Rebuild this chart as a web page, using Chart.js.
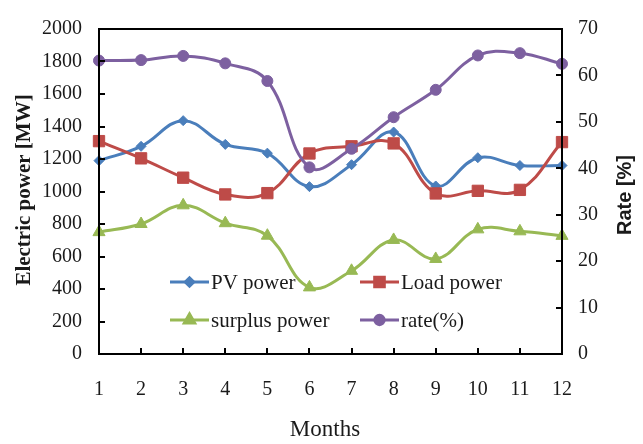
<!DOCTYPE html>
<html>
<head>
<meta charset="utf-8">
<script src="https://cdn.jsdelivr.net/npm/chart.js@4.4.1/dist/chart.umd.min.js"></script>
<style>
  html, body { margin: 0; padding: 0; background: #ffffff; }
  #wrap { width: 643px; height: 444px; position: relative; }
</style>
</head>
<body>
<div id="wrap"><canvas id="c" width="643" height="444"></canvas></div>
<script>
const months = ["1","2","3","4","5","6","7","8","9","10","11","12"];
const pvPower = [1190, 1278, 1436, 1290, 1236, 1030, 1165, 1366, 1034, 1208, 1160, 1160];
const loadPower = [1310, 1204, 1085, 982, 990, 1234, 1278, 1296, 988, 1004, 1010, 1304];
const surplusPower = [750, 800, 915, 805, 728, 410, 512, 702, 585, 767, 755, 727];
const rate = [63.2, 63.3, 64.2, 62.6, 58.8, 40.2, 44.2, 51.0, 56.9, 64.3, 64.8, 62.5];
const leftTicks = [0, 200, 400, 600, 800, 1000, 1200, 1400, 1600, 1800, 2000];
const rightTicks = [0, 10, 20, 30, 40, 50, 60, 70];
const seriesNames = ["PV power", "Load power", "surplus power", "rate(%)"];
const yTitle = "Electric power [MW]";
const y1Title = "Rate [%]";
const xTitle = "Months";

const COLORS = ["#4A7EBB", "#BE4B48", "#98B954", "#7D60A0"];
const SERIF = "'Liberation Serif', 'DejaVu Serif', serif";
const SANS = "'Liberation Sans', Arial, sans-serif";

function ds(label, data, color, style, radius, axis, order) {
  return {
    label, data, yAxisID: axis, order,
    borderColor: color, backgroundColor: color,
    borderWidth: 3, tension: 0.4,
    pointStyle: style, pointRadius: radius, pointHoverRadius: radius,
    pointBorderWidth: 1, pointBorderColor: color, pointBackgroundColor: color,
    clip: false
  };
}

const frameAndTicks = {
  id: 'frameAndTicks',
  afterDatasetsDraw(chart) {
    const ctx = chart.ctx;
    const a = chart.chartArea;
    const sx = chart.scales.x, sy = chart.scales.y, sy1 = chart.scales.y1;
    ctx.save();
    ctx.strokeStyle = '#000';
    ctx.lineWidth = 2;
    const TL = 6;
    ctx.beginPath();
    leftTicks.forEach(v => { const p = Math.round(sy.getPixelForValue(v)); ctx.moveTo(a.left, p); ctx.lineTo(a.left + TL, p); });
    rightTicks.forEach(v => { const p = Math.round(sy1.getPixelForValue(v)); ctx.moveTo(a.right, p); ctx.lineTo(a.right - TL, p); });
    months.forEach((m, i) => { const p = Math.round(sx.getPixelForValue(i)); ctx.moveTo(p, a.bottom); ctx.lineTo(p, a.bottom - TL); });
    ctx.stroke();
    ctx.strokeRect(a.left, a.top, a.right - a.left, a.bottom - a.top);
    ctx.restore();
  }
};

const legendAndTitles = {
  id: 'legendAndTitles',
  afterDraw(chart) {
    const ctx = chart.ctx;
    ctx.save();
    const spots = [
      {x: 170, y: 282}, {x: 360, y: 282},
      {x: 170, y: 320}, {x: 360, y: 320}
    ];
    chart.data.datasets.forEach((d, i) => {
      const s = spots[i];
      ctx.strokeStyle = d.borderColor;
      ctx.lineWidth = 3;
      ctx.beginPath();
      ctx.moveTo(s.x, s.y); ctx.lineTo(s.x + 39, s.y);
      ctx.stroke();
      ctx.fillStyle = d.backgroundColor;
      Chart.helpers.drawPoint(ctx, {pointStyle: d.pointStyle, radius: d.pointRadius * 0.85, borderWidth: 1, rotation: 0}, s.x + 19.5, s.y);
      ctx.fillStyle = '#1a1a1a';
      ctx.font = "21px " + SERIF;
      ctx.textAlign = 'left';
      ctx.textBaseline = 'middle';
      ctx.fillText(d.label, s.x + 41, s.y + 1);
    });
    ctx.fillStyle = '#1a1a1a';
    ctx.textAlign = 'center';
    ctx.textBaseline = 'middle';
    ctx.save();
    ctx.translate(25, 190);
    ctx.rotate(-Math.PI / 2);
    ctx.font = "bold 21px " + SERIF;
    ctx.fillText(yTitle, 0, 0);
    ctx.restore();
    ctx.save();
    ctx.translate(625, 195);
    ctx.rotate(-Math.PI / 2);
    ctx.font = "bold 20px " + SANS;
    ctx.fillText(y1Title, 0, 0);
    ctx.restore();
    ctx.font = "23px " + SERIF;
    ctx.fillText(xTitle, 325, 430);
    ctx.restore();
  }
};

new Chart(document.getElementById('c'), {
  type: 'line',
  data: {
    labels: months,
    datasets: [
      ds(seriesNames[0], pvPower, COLORS[0], 'rectRot', 5, 'y', 4),
      ds(seriesNames[1], loadPower, COLORS[1], 'rect', 8, 'y', 3),
      ds(seriesNames[2], surplusPower, COLORS[2], 'triangle', 7, 'y', 2),
      ds(seriesNames[3], rate, COLORS[3], 'circle', 5.5, 'y1', 1)
    ]
  },
  options: {
    responsive: false,
    animation: false,
    devicePixelRatio: 1,
    layout: { padding: { top: 18, left: 0, right: 0, bottom: 0 } },
    plugins: { legend: { display: false }, tooltip: { enabled: false } },
    scales: {
      x: {
        type: 'category', offset: false,
        grid: { display: false, drawTicks: false },
        border: { display: false },
        ticks: { color: '#1a1a1a', font: { family: SERIF, size: 20 }, padding: 24, maxRotation: 0, autoSkip: false },
        afterFit: s => { s.height = 90; }
      },
      y: {
        position: 'left', min: 0, max: 2000,
        afterBuildTicks: s => { s.ticks = leftTicks.map(v => ({ value: v })); },
        grid: { display: false, drawTicks: false },
        border: { display: false },
        ticks: { color: '#1a1a1a', font: { family: SERIF, size: 20 }, padding: 17, callback: v => String(v) },
        afterFit: s => { s.width = 99; }
      },
      y1: {
        position: 'right', min: 0, max: 70,
        afterBuildTicks: s => { s.ticks = rightTicks.map(v => ({ value: v })); },
        grid: { display: false, drawTicks: false },
        border: { display: false },
        ticks: { color: '#1a1a1a', font: { family: SERIF, size: 20 }, padding: 16, callback: v => String(v) },
        afterFit: s => { s.width = 81; }
      }
    }
  },
  plugins: [frameAndTicks, legendAndTitles]
});
</script>
</body>
</html>
